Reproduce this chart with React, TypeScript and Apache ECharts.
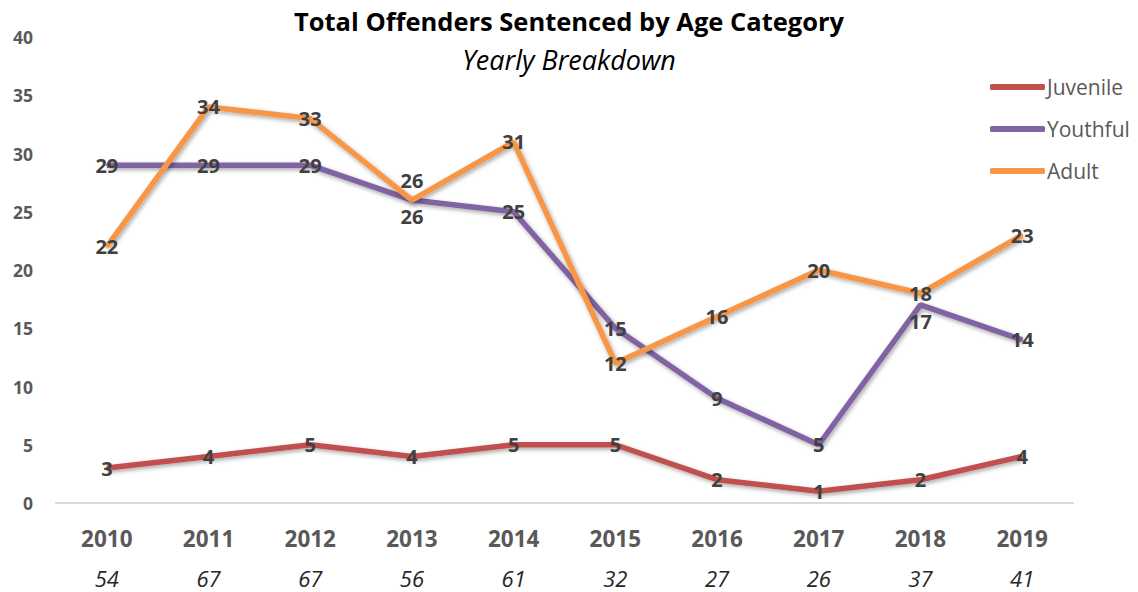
import React, { useEffect, useRef } from "react";
import * as echarts from "echarts";

const years = ["2010", "2011", "2012", "2013", "2014", "2015", "2016", "2017", "2018", "2019"];
const totals = [54, 67, 67, 56, 61, 32, 27, 26, 37, 41];
const juvenile = [3, 4, 5, 4, 5, 5, 2, 1, 2, 4];
const youthful = [29, 29, 29, 26, 25, 15, 9, 5, 17, 14];
const adult = [22, 34, 33, 26, 31, 12, 16, 20, 18, 23];

const FONT = "'Open Sans', sans-serif";

// label nudges to avoid overlapping labels (series name -> index -> [dx, dy])
const labelNudges: Record<string, Record<number, [number, number]>> = {
  Adult: { 3: [0, -20] },
  Youthful: { 3: [0, 16], 8: [0, 17] },
};

function makeSeries(name: string, values: number[], color: string) {
  const nudges = labelNudges[name] || {};
  return {
    name,
    type: "line",
    symbol: "circle",
    symbolSize: 2,
    itemStyle: { color },
    lineStyle: {
      color,
      width: 5.5,
      shadowColor: "rgba(0,0,0,0.35)",
      shadowBlur: 4,
      shadowOffsetX: 1.5,
      shadowOffsetY: 2,
    },
    label: {
      show: true,
      position: "inside",
      color: "#404040",
      fontFamily: FONT,
      fontWeight: "bold",
      fontSize: 20,
    },
    data: values.map((v, i) =>
      nudges[i] ? { value: v, label: { offset: nudges[i] } } : v
    ),
  };
}

export default function App() {
  const ref = useRef<HTMLDivElement>(null);
  useEffect(() => {
    if (!ref.current) return;
    const chart = echarts.init(ref.current, null, { renderer: "svg" });
    chart.setOption({
      animation: false,
      backgroundColor: "#ffffff",
      title: [
        {
          text: "Total Offenders Sentenced by Age Category",
          left: "center",
          top: 3,
          textStyle: { fontFamily: FONT, fontWeight: "bold", fontSize: 25.5, color: "#000" },
        },
        {
          text: "Yearly Breakdown",
          left: "center",
          top: 41,
          textStyle: { fontFamily: FONT, fontStyle: "italic", fontWeight: "normal", fontSize: 27, color: "#000" },
        },
      ],
      legend: {
        orient: "vertical",
        left: 985,
        top: 71,
        itemWidth: 55,
        itemHeight: 6,
        itemGap: 20,
        icon: "roundRect",
        textStyle: { fontFamily: FONT, fontSize: 21, color: "#595959", lineHeight: 22, padding: [0, 0, 0, -3] },
        data: ["Juvenile", "Youthful", "Adult"],
      },
      grid: { left: 56, right: 65, top: 37, bottom: 89, containLabel: false },
      xAxis: {
        type: "category",
        data: years,
        boundaryGap: true,
        axisLine: { show: true, lineStyle: { color: "#d9d9d9", width: 2 } },
        axisTick: { show: false },
        axisLabel: {
          margin: 15,
          formatter: (val: string, idx: number) => `{a|${val}}\n{b|${totals[idx]}}`,
          rich: {
            a: { fontFamily: FONT, fontWeight: "bold", fontSize: 22.5, color: "#595959", lineHeight: 40 },
            b: { fontFamily: FONT, fontStyle: "italic", fontSize: 22, color: "#262626", lineHeight: 40 },
          },
        },
      },
      yAxis: {
        type: "value",
        min: 0,
        max: 40,
        interval: 5,
        axisLine: { show: false },
        axisTick: { show: false },
        splitLine: { show: false },
        axisLabel: {
          margin: 23,
          fontFamily: FONT,
          fontWeight: "bold",
          fontSize: 17.5,
          color: "#595959",
        },
      },
      series: [
        makeSeries("Juvenile", juvenile, "#C0504D"),
        makeSeries("Youthful", youthful, "#8064A2"),
        makeSeries("Adult", adult, "#F79646"),
      ],
    });
    return () => chart.dispose();
  }, []);
  return (
    <div
      ref={ref}
      style={{ position: "fixed", left: 0, top: 0, width: 1138, height: 592 }}
    />
  );
}
